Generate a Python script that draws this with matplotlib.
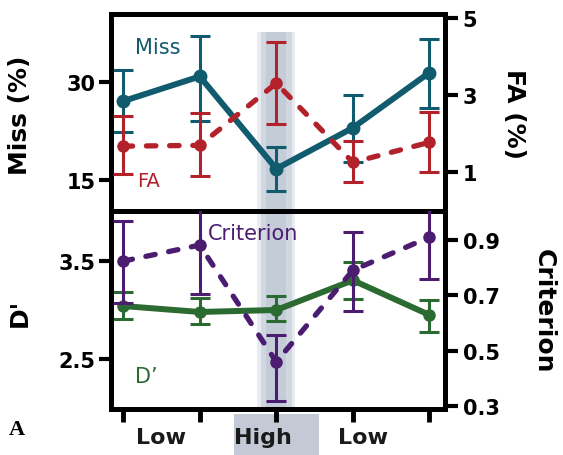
import numpy as np
import matplotlib
matplotlib.use("Agg")
from matplotlib import pyplot as plt
from matplotlib.patches import Rectangle
import matplotlib.transforms as mtransforms

# five blocks along the session
x = np.arange(5)
cond_labels = ["Low", "High", "Low"]
cond_pos = [0.5, 1.82, 3.13]
high_pos = 2

# top panel: miss (%) left axis, false alarms (%) right axis
miss = [27.1, 30.9, 16.7, 23.0, 31.5]
miss_lo = [22.3, 24.0, 13.3, 17.8, 26.1]
miss_hi = [31.9, 37.1, 20.0, 28.0, 36.6]
fa = [1.68, 1.70, 3.31, 1.26, 1.78]
fa_lo = [0.97, 0.90, 2.25, 0.74, 1.00]
fa_hi = [2.45, 2.53, 4.38, 1.81, 2.56]

# bottom panel: d' left axis, criterion right axis
dprime = [3.04, 2.98, 3.00, 3.30, 2.95]
dprime_lo = [2.91, 2.86, 2.89, 3.11, 2.78]
dprime_hi = [3.18, 3.12, 3.14, 3.49, 3.10]
crit = [0.824, 0.882, 0.46, 0.791, 0.911]
crit_lo = [0.671, 0.704, 0.318, 0.645, 0.758]
crit_hi = [0.969, 1.06, 0.558, 0.929, 1.06]

c_miss = "#105b6e"
c_fa = "#b3222b"
c_crit = "#4b1c70"
c_dp = "#2b6b31"
band_c = "#97a5bb"

plt.rcParams["font.family"] = ["DejaVu Sans"]

fig = plt.figure(figsize=(5.63, 4.56), dpi=100)
ax1 = fig.add_axes([0.197, 0.535, 0.593, 0.432])
ax2 = fig.add_axes([0.197, 0.101, 0.593, 0.434])
ax1r = ax1.twinx()
ax2r = ax2.twinx()


def err(v, lo, hi):
    v = np.array(v)
    return [v - np.array(lo), np.array(hi) - v]


def band(ax, ymax=1.0):
    for w, a in [(0.25, 0.22), (0.2, 0.28), (0.13, 0.22)]:
        ax.axvspan(high_pos - w, high_pos + w, ymin=0, ymax=ymax,
                   color=band_c, alpha=a, lw=0, zorder=0)


band(ax1, ymax=0.91)
band(ax2)

ax1.errorbar(x, miss, yerr=err(miss, miss_lo, miss_hi), color=c_miss,
             lw=4.3, marker="o", ms=9, elinewidth=2.2, capsize=7,
             capthick=2.2, zorder=3)
fa_line = ax1r.errorbar(x, fa, yerr=err(fa, fa_lo, fa_hi), color=c_fa, lw=3.8,
                        ls=(0, (1.8, 2.6)), marker="o", ms=8, elinewidth=2.2,
                        capsize=7, capthick=2.2, zorder=3)
fa_line[0].set_dash_capstyle("round")

ax2.errorbar(x, dprime, yerr=err(dprime, dprime_lo, dprime_hi), color=c_dp,
             lw=4.3, marker="o", ms=8, elinewidth=2.2, capsize=7,
             capthick=2.2, zorder=3)
crit_line = ax2r.errorbar(x, crit, yerr=err(crit, crit_lo, crit_hi),
                          color=c_crit, lw=3.8, ls=(0, (1.8, 2.6)), marker="o",
                          ms=8, elinewidth=2.2, capsize=7, capthick=2.2,
                          zorder=3)
crit_line[0].set_dash_capstyle("round")

for a in (ax1, ax1r, ax2, ax2r):
    a.set_xlim(-0.16, 4.2)
    for s in a.spines.values():
        s.set_linewidth(3.5)
    a.tick_params(width=3, length=9, labelsize=15, pad=2)

ax1.set_ylim(10.2, 40.5)
ax1.set_yticks([15, 30])
ax1r.set_ylim(0, 5.1)
ax1r.set_yticks([1, 3, 5])
ax2.set_ylim(2.0, 4.0)
ax2.set_yticks([2.5, 3.5])
ax2r.set_ylim(0.29, 1.005)
ax2r.set_yticks([0.3, 0.5, 0.7, 0.9])
ax2r.set_yticklabels(["0.3", "0.5", "0.7", "0.9"])

for a in (ax1, ax1r, ax2, ax2r):
    for t in a.get_yticklabels():
        t.set_fontweight("bold")
ax1r.tick_params(axis="y", pad=4)
ax2r.tick_params(axis="y", pad=4)

ax1.set_xticks([])
ax1r.set_xticks([])
ax2.set_xticks(x)
ax2.set_xticklabels([])
ax2.tick_params(axis="x", length=9, width=3.5)

# axis titles
ax1.text(-0.272, 0.49, "Miss (%)", transform=ax1.transAxes, rotation=90,
         ha="center", va="center", fontsize=18, fontweight="bold")
ax1.text(1.207, 0.50, "FA (%)", transform=ax1.transAxes, rotation=270,
         ha="center", va="center", fontsize=18, fontweight="bold")
ax2.text(-0.272, 0.49, "D'", transform=ax2.transAxes, rotation=90,
         ha="center", va="center", fontsize=18, fontweight="bold")
ax2.text(1.296, 0.50, "Criterion", transform=ax2.transAxes, rotation=270,
         ha="center", va="center", fontsize=18, fontweight="bold")

# series names inside the panels
ax1.text(0.15, 35.4, "Miss", color=c_miss, fontsize=15, ha="left", va="center")
ax1r.text(0.18, 0.78, "FA", color=c_fa, fontsize=14, ha="left", va="center")
ax2r.text(1.1, 0.925, "Criterion", color=c_crit, fontsize=15, ha="left", va="center")
ax2.text(0.16, 2.33, "D\u2019", color=c_dp, fontsize=15, ha="left", va="center")

# condition labels under the x axis
trans = mtransforms.blended_transform_factory(ax2.transData, ax2.transAxes)
ax2.add_patch(Rectangle((high_pos - 0.555, -0.24), 1.11, 0.215,
                        transform=trans, color="#c3cad6", lw=0,
                        clip_on=False, zorder=0))
for p, lab in zip(cond_pos, cond_labels):
    ax2.text(p, -0.142, lab, transform=trans, ha="center", va="center",
             fontsize=16, fontweight="bold", color="#1a1a1a")

fig.text(0.03, 0.057, "A", fontsize=16, fontweight="bold",
         family=["Liberation Serif", "DejaVu Serif"], ha="center", va="center")

fig.savefig("out.png", dpi=100)
